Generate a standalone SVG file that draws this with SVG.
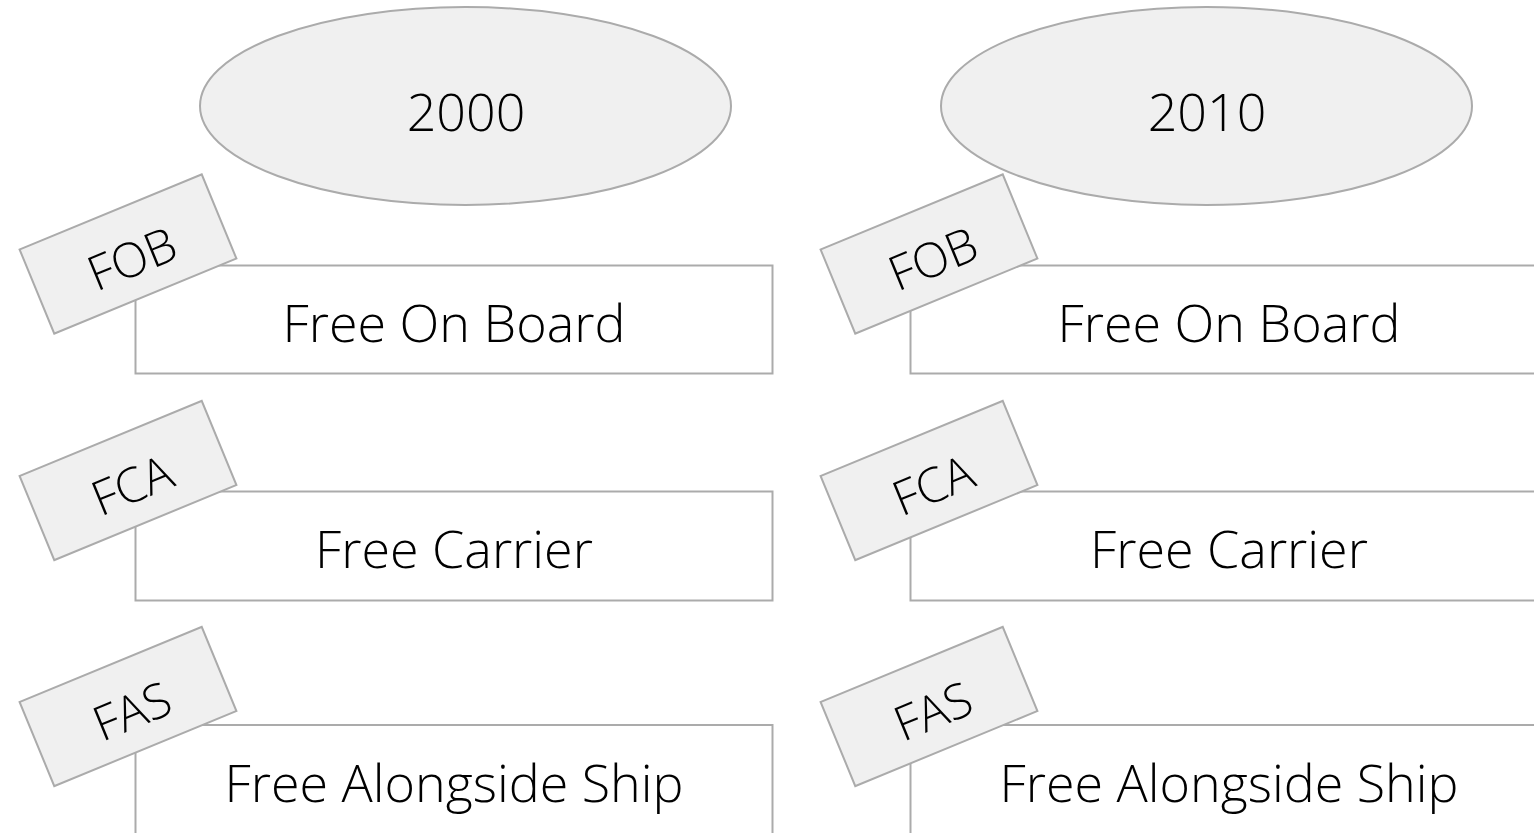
<svg xmlns="http://www.w3.org/2000/svg" width="1534" height="833" viewBox="0 0 1534 833">
<style>
.box{fill:#FFFFFF;stroke:#ABABAB;stroke-width:2}
.tag{fill:#F0F0F0;stroke:#ABABAB;stroke-width:2}
.ell{fill:#F0F0F0;stroke:#ABABAB;stroke-width:2}
.t{font-family:"Open Sans","Noto Sans","Liberation Sans",sans-serif;font-weight:300;fill:#000;text-anchor:middle}
.big{font-size:52px}
.small{font-size:48px}
</style>
<rect width="1534" height="833" fill="#FFFFFF"/>
<g id="year2000">
<ellipse class="ell" cx="465.5" cy="106" rx="265.5" ry="99"/>
<text class="t big" x="466" y="131">2000</text>
</g>
<g id="year2010">
<ellipse class="ell" cx="1206.5" cy="106" rx="265.5" ry="99"/>
<text class="t big" x="1207" y="131">2010</text>
</g>
<g id="fob2000">
<rect class="box" x="135.5" y="265.5" width="637" height="108"/>
<text class="t big" x="454" y="342">Free On Board</text>
<g transform="translate(128,254) rotate(-22.4)">
<rect class="tag" x="-98.5" y="-45.5" width="197" height="91"/>
<text class="t small" x="2" y="23">FOB</text>
</g>
</g>
<g id="fca2000">
<rect class="box" x="135.5" y="491.5" width="637" height="109"/>
<text class="t big" x="454" y="568">Free Carrier</text>
<g transform="translate(128,480.5) rotate(-22.4)">
<rect class="tag" x="-98.5" y="-45.5" width="197" height="91"/>
<text class="t small" x="2" y="23">FCA</text>
</g>
</g>
<g id="fas2000">
<rect class="box" x="135.5" y="725" width="637" height="120"/>
<text class="t big" x="454" y="802">Free Alongside Ship</text>
<g transform="translate(128,706.5) rotate(-22.4)">
<rect class="tag" x="-98.5" y="-45.5" width="197" height="91"/>
<text class="t small" x="2" y="23">FAS</text>
</g>
</g>
<g id="fob2010">
<rect class="box" x="910.5" y="265.5" width="637" height="108"/>
<text class="t big" x="1229" y="342">Free On Board</text>
<g transform="translate(929,254) rotate(-22.4)">
<rect class="tag" x="-98.5" y="-45.5" width="197" height="91"/>
<text class="t small" x="2" y="23">FOB</text>
</g>
</g>
<g id="fca2010">
<rect class="box" x="910.5" y="491.5" width="637" height="109"/>
<text class="t big" x="1229" y="568">Free Carrier</text>
<g transform="translate(929,480.5) rotate(-22.4)">
<rect class="tag" x="-98.5" y="-45.5" width="197" height="91"/>
<text class="t small" x="2" y="23">FCA</text>
</g>
</g>
<g id="fas2010">
<rect class="box" x="910.5" y="725" width="637" height="120"/>
<text class="t big" x="1229" y="802">Free Alongside Ship</text>
<g transform="translate(929,706.5) rotate(-22.4)">
<rect class="tag" x="-98.5" y="-45.5" width="197" height="91"/>
<text class="t small" x="2" y="23">FAS</text>
</g>
</g>
<g id="connectors"></g>
</svg>
